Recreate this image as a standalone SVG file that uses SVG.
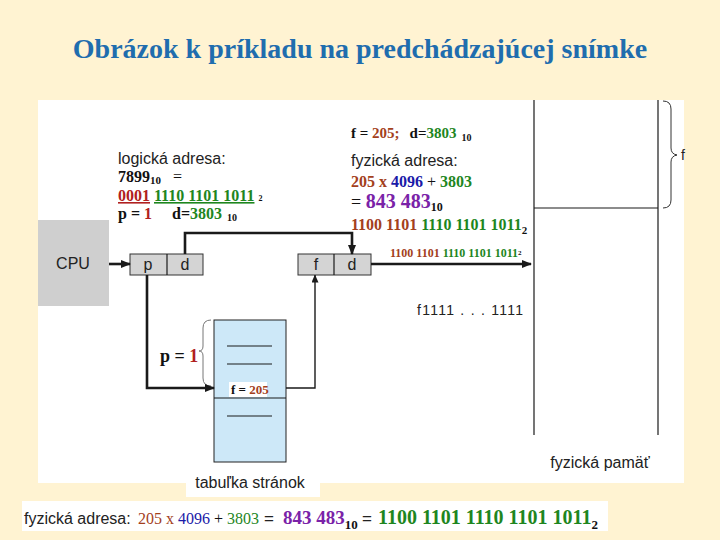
<svg xmlns="http://www.w3.org/2000/svg" width="720" height="540" viewBox="0 0 720 540">
<style>
.sans{font-family:"Liberation Sans",Arial,sans-serif;fill:#222}
.ser{font-family:"Liberation Serif","Times New Roman",serif;font-weight:bold;fill:#111}
.br{fill:#A3401C}
.rd{fill:#B02020}
.gr{fill:#1E861E}
.bl{fill:#1A1AA8}
.pu{fill:#7A22A8}
.box{fill:#D4D4D4;stroke:#333;stroke-width:1}
.thick{fill:none;stroke:#1a1a1a;stroke-width:2.6}
.thin{fill:none;stroke:#1a1a1a;stroke-width:1.4}
.ln{stroke:#1a1a1a;stroke-width:1.2}
</style>
<defs>
<marker id="ah" viewBox="0 0 10 8" refX="9" refY="4" markerWidth="10" markerHeight="8" markerUnits="userSpaceOnUse" orient="auto"><path d="M0,0 L10,4 L0,8 z" fill="#1a1a1a"/></marker>
<marker id="ahs" viewBox="0 0 8 7" refX="7.5" refY="3.5" markerWidth="8" markerHeight="7" markerUnits="userSpaceOnUse" orient="auto"><path d="M0,0 L8,3.5 L0,7 z" fill="#1a1a1a"/></marker>
</defs>
<rect width="720" height="540" fill="#FFF3D2"/>
<text x="360" y="58" text-anchor="middle" font-family="Liberation Serif,'Times New Roman',serif" font-weight="bold" font-size="28" fill="#1F6DAE">Obrázok k príkladu na predchádzajúcej snímke</text>
<rect x="38" y="100" width="646" height="383" fill="#FFFFFF"/>
<rect x="186" y="466" width="134" height="31" fill="#FFFFFF"/>
<rect x="22" y="501" width="586" height="30" fill="#FFFFFF"/>

<g id="cpu">
<rect x="38" y="220" width="71" height="86" fill="#CFCFCF"/>
<text class="sans" x="73" y="269" text-anchor="middle" font-size="16">CPU</text>
</g>

<g id="logical-address">
<rect class="box" x="130" y="254" width="73" height="21"/>
<line class="ln" x1="167" y1="254" x2="167" y2="275"/>
<text class="sans" x="148" y="270" text-anchor="middle" font-size="16">p</text>
<text class="sans" x="185" y="270" text-anchor="middle" font-size="16">d</text>
</g>

<g id="physical-address">
<rect class="box" x="298" y="254" width="73" height="21"/>
<line class="ln" x1="334" y1="254" x2="334" y2="275"/>
<text class="sans" x="316" y="270" text-anchor="middle" font-size="16">f</text>
<text class="sans" x="352" y="270" text-anchor="middle" font-size="16">d</text>
</g>

<g id="page-table">
<rect x="214" y="320" width="72" height="142" fill="#CDE8F8" stroke="#222" stroke-width="1"/>
<line class="ln" x1="214" y1="398" x2="286" y2="398"/>
<line class="ln" x1="227" y1="346" x2="272" y2="346"/>
<line class="ln" x1="227" y1="364" x2="272" y2="364"/>
<line class="ln" x1="227" y1="416" x2="272" y2="416"/>
<rect x="229" y="382" width="38" height="15" fill="#FFFFFF"/>
<text class="ser" x="231" y="394" font-size="13">f = <tspan class="br">205</tspan></text>
<path d="M211,320 Q203,320 203,328 L203,346 Q203,351 199,351 Q203,351 203,356 L203,378 Q203,386 211,386" fill="none" stroke="#777" stroke-width="1"/>
<text class="ser" x="160" y="362" font-size="18">p = <tspan class="rd">1</tspan></text>
<text class="sans" x="250" y="488" text-anchor="middle" font-size="16">tabuľka stránok</text>
</g>

<g id="physical-memory">
<line class="ln" x1="534" y1="100" x2="534" y2="435"/>
<line class="ln" x1="658" y1="100" x2="658" y2="435"/>
<line class="ln" x1="534" y1="208" x2="658" y2="208"/>
<path d="M663,101 Q671,101 671,109 L671,148 Q671,154 677,155 Q671,156 671,162 L671,200 Q671,208 663,208" fill="none" stroke="#333" stroke-width="1"/>
<text class="sans" x="681" y="160" font-size="14">f</text>
<text class="sans" x="417" y="315" font-size="14" textLength="106" lengthAdjust="spacing">f1111 . . . 1111</text>
<text class="sans" x="600" y="468" text-anchor="middle" font-size="16">fyzická pamäť</text>
</g>

<g id="connectors">
<line class="thick" x1="109" y1="264" x2="130" y2="264" marker-end="url(#ah)"/>
<path class="thick" d="M185,254 V233 H352 V254" marker-end="url(#ah)"/>
<path class="thick" d="M147,275 V388 H214" marker-end="url(#ah)"/>
<path class="thin" d="M286,388 H315 V275" marker-end="url(#ahs)"/>
<line class="thick" x1="371" y1="264" x2="531" y2="264" stroke-width="2" marker-end="url(#ah)"/>
<text class="ser" x="390" y="257" font-size="12"><tspan class="br">1100 1101 </tspan><tspan class="gr">1110 1101 1011</tspan><tspan font-size="7" dy="-2">2</tspan></text>
</g>

<g id="left-text">
<text class="sans" x="118" y="164" font-size="16">logická adresa:</text>
<text class="ser" x="118" y="182" font-size="16">7899<tspan font-size="11" dy="2">10</tspan><tspan dy="-2" dx="12" font-weight="normal">=</tspan></text>
<text class="ser" x="118" y="201" font-size="16"><tspan class="rd" text-decoration="underline">0001</tspan> <tspan class="gr" text-decoration="underline">1110 1101 1011</tspan><tspan font-size="8" dx="4">2</tspan></text>
<text class="ser" x="118" y="219" font-size="16">p = <tspan class="rd">1</tspan><tspan dx="20">d=</tspan><tspan class="gr">3803</tspan><tspan font-size="10" dx="5" dy="2">10</tspan></text>
</g>

<g id="right-text">
<text class="ser" x="351" y="138" font-size="15">f = <tspan class="br">205;</tspan><tspan dx="10">d=</tspan><tspan class="gr">3803</tspan><tspan font-size="10" dx="5" dy="3">10</tspan></text>
<text class="sans" x="351" y="166" font-size="16">fyzická adresa:</text>
<text class="ser" x="351" y="187" font-size="16"><tspan class="br">205 x </tspan><tspan class="bl">4096</tspan><tspan font-weight="normal"> + </tspan><tspan class="gr">3803</tspan></text>
<text class="ser" x="351" y="208" font-size="20"><tspan font-weight="normal" font-size="18">= </tspan><tspan class="pu">843 483</tspan><tspan font-size="12" dy="3">10</tspan></text>
<text class="ser" x="351" y="230" font-size="16"><tspan class="br">1100 1101 </tspan><tspan class="gr">1110 1101 1011</tspan><tspan font-size="11" dy="4">2</tspan></text>
</g>

<g id="bottom-line">
<text class="sans" x="24" y="524" font-size="16">fyzická adresa:</text>
<text x="138" y="524" font-family="Liberation Serif,'Times New Roman',serif" font-size="16"><tspan class="br">205 x </tspan><tspan class="bl">4096</tspan><tspan fill="#111"> + </tspan><tspan class="gr">3803</tspan></text>
<text class="sans" x="264" y="524" font-size="17">=</text>
<text class="ser" x="283" y="524" font-size="19"><tspan class="pu">843 483</tspan><tspan font-size="13" dy="5">10</tspan></text>
<text class="sans" x="362" y="524" font-size="17">=</text>
<text class="ser" x="378" y="524" font-size="20"><tspan class="gr">1100 1101 1110 1101 1011</tspan><tspan font-size="13" dy="5">2</tspan></text>
</g>
</svg>
